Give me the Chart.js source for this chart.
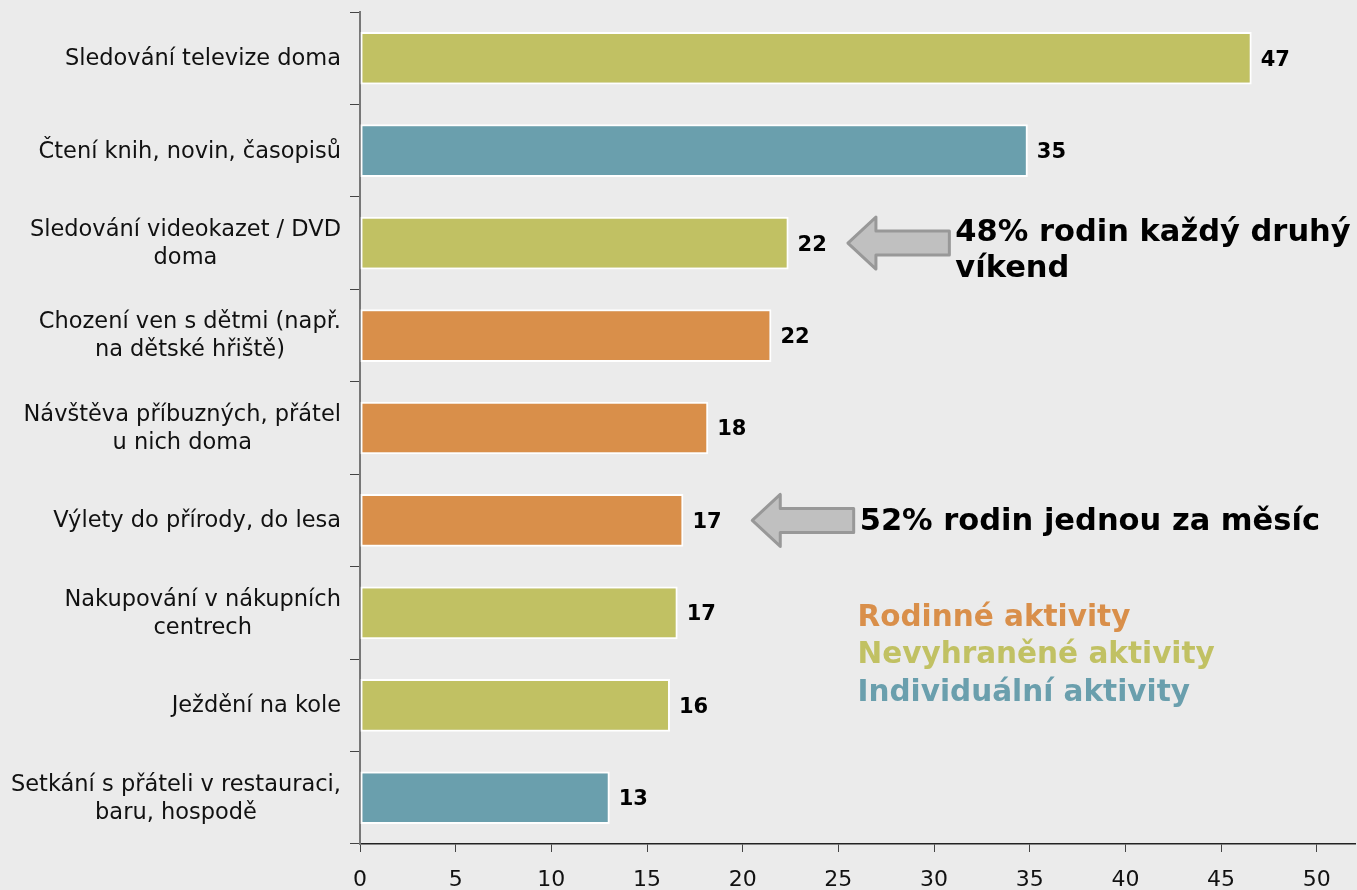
<!DOCTYPE html>
<html>
<head>
<meta charset="utf-8">
<script src="https://cdn.jsdelivr.net/npm/chart.js@4/dist/chart.umd.min.js"></script>
<style>
  html,body{margin:0;padding:0;background:#ebebeb;}
  #wrap{width:1357px;height:890px;position:relative;}
</style>
</head>
<body>
<div id="wrap"><canvas id="chart"></canvas></div>
<script>
// data
const activities = [
  'Sledování televize doma',
  'Čtení knih, novin, časopisů',
  ['Sledování videokazet / DVD', 'doma'],
  ['Chození ven s dětmi (např.', 'na dětské hřiště)'],
  ['Návštěva příbuzných, přátel', 'u nich doma'],
  'Výlety do přírody, do lesa',
  ['Nakupování v nákupních', 'centrech'],
  'Ježdění na kole',
  ['Setkání s přáteli v restauraci,', 'baru, hospodě']
];
const shares = [46.6, 34.9, 22.4, 21.5, 18.2, 16.9, 16.6, 16.2, 13.05];
const groups = ['neutral', 'individual', 'neutral', 'family', 'family', 'family', 'neutral', 'neutral', 'individual'];
const xTicks = [0, 5, 10, 15, 20, 25, 30, 35, 40, 45, 50];

const groupColors = {family:'#d98f4a', neutral:'#c1c163', individual:'#6a9fad'};
const legendRows = [
  {text:'Rodinné aktivity', group:'family'},
  {text:'Nevyhraněné aktivity', group:'neutral'},
  {text:'Individuální aktivity', group:'individual'}
];
// callouts: which bar, arrow tip / tail in axis units, text lines
const callouts = [
  {bar:2, tip:25.5, tail:30.8, lines:['48% rodin každý druhý', 'víkend']},
  {bar:5, tip:20.5, tail:25.8, lines:['52% rodin jednou za měsíc']}
];

const FONT = '"DejaVu Sans", Verdana, sans-serif';

function arrowLeft(ctx, tipX, tailX, y){
  const head = 28, shaft = 12, hh = 26;
  ctx.beginPath();
  ctx.moveTo(tipX, y);
  ctx.lineTo(tipX + head, y - hh);
  ctx.lineTo(tipX + head, y - shaft);
  ctx.lineTo(tailX, y - shaft);
  ctx.lineTo(tailX, y + shaft);
  ctx.lineTo(tipX + head, y + shaft);
  ctx.lineTo(tipX + head, y + hh);
  ctx.closePath();
  ctx.fillStyle = '#c0c0c0'; ctx.fill();
  ctx.lineWidth = 3; ctx.strokeStyle = '#989898'; ctx.lineJoin = 'round'; ctx.stroke();
}

const extras = {
  id:'extras',
  afterDraw(chart){
    const {ctx, scales:{x, y}} = chart;
    const meta = chart.getDatasetMeta(0);
    ctx.save();
    // category labels: block right-aligned, lines centred within block
    ctx.font = '22.5px ' + FONT; ctx.fillStyle = '#111'; ctx.textBaseline = 'middle'; ctx.textAlign = 'center';
    activities.forEach((lab, i)=>{
      const lines = Array.isArray(lab) ? lab : [lab];
      const w = Math.max(...lines.map(l=>ctx.measureText(l).width));
      const cx = y.left + y.width - 19 - w / 2;
      const cy = y.getPixelForTick(i);
      lines.forEach((l, k)=> ctx.fillText(l, cx, cy + (k - (lines.length - 1) / 2) * 28 + 1));
    });
    // value labels
    ctx.font = 'bold 21px ' + FONT; ctx.fillStyle = '#000'; ctx.textAlign = 'left';
    meta.data.forEach((bar, i)=>{ ctx.fillText(String(Math.round(shares[i])), bar.x + 9, bar.y + 2); });
    // callouts
    callouts.forEach(c=>{
      const cy = meta.data[c.bar].y;
      const tipX = x.getPixelForValue(c.tip), tailX = x.getPixelForValue(c.tail);
      arrowLeft(ctx, tipX, tailX, cy);
      ctx.font = 'bold 30.5px ' + FONT; ctx.fillStyle = '#000'; ctx.textAlign = 'left';
      c.lines.forEach((l, k)=> ctx.fillText(l, tailX + 6, (c.lines.length > 1 ? cy - 10 : cy + 2) + k * 36));
    });
    // colour key
    ctx.font = 'bold 29.5px ' + FONT;
    const kx = x.getPixelForValue(26.0);
    const ky = meta.data[6].y + 5;
    legendRows.forEach((r, k)=>{ ctx.fillStyle = groupColors[r.group]; ctx.fillText(r.text, kx, ky + k * 37.5); });
    ctx.restore();
  }
};

new Chart(document.getElementById('chart'), {
  type:'bar',
  data:{
    labels: activities,
    datasets:[{
      data: shares,
      backgroundColor: groups.map(g=>groupColors[g]),
      borderColor:'#ffffff',
      borderWidth:2,
      borderSkipped:false,
      categoryPercentage:1,
      barPercentage:0.57
    }]
  },
  options:{
    indexAxis:'y',
    responsive:true,
    maintainAspectRatio:false,
    animation:false,
    layout:{padding:{top:12, right:2, left:0, bottom:0}},
    plugins:{legend:{display:false}, tooltip:{enabled:false}},
    scales:{
      x:{
        min:0, max:52,
        afterBuildTicks(axis){ axis.ticks = xTicks.map(v=>({value:v})); },
        afterFit(axis){ axis.height = 46; axis.paddingLeft = 0; axis.paddingRight = 0; },
        border:{color:'#222', width:1.5},
        grid:{drawOnChartArea:false, tickLength:8, color:'#444', tickWidth:1},
        ticks:{font:{family:FONT, size:22}, color:'#111', padding:15, maxRotation:0}
      },
      y:{
        afterFit(axis){ axis.width = 360; axis.paddingTop = 0; axis.paddingBottom = 0; },
        border:{color:'#777', width:2},
        grid:{drawOnChartArea:false, tickLength:10, color:'#444', offset:true},
        ticks:{display:false}
      }
    }
  },
  plugins:[extras]
});
</script>
</body>
</html>
